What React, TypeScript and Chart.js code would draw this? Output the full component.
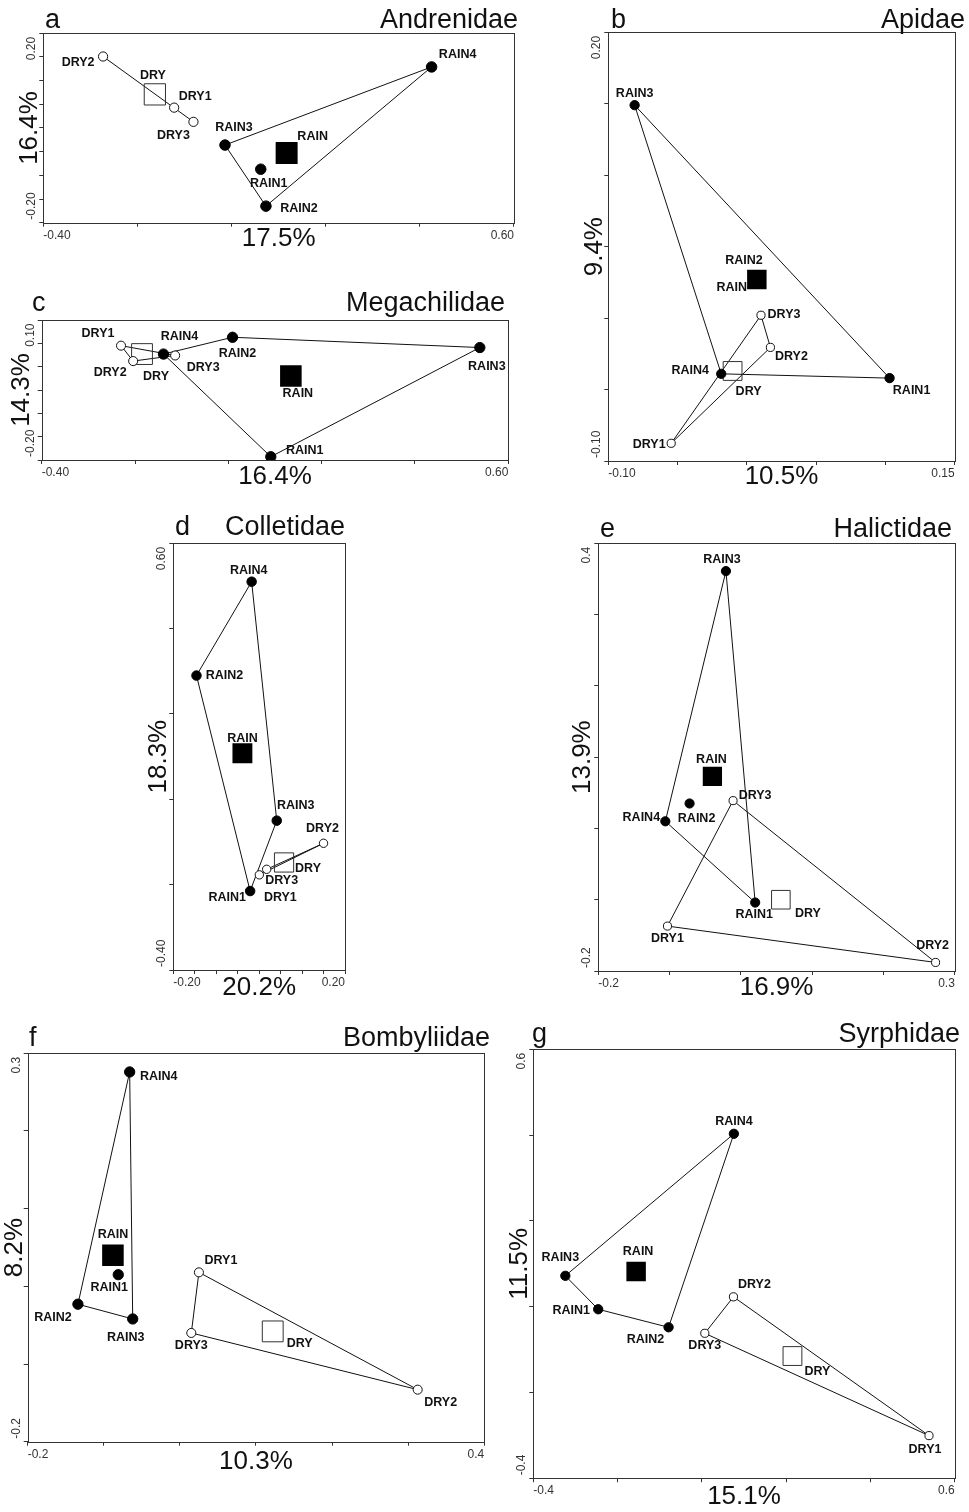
import React, { useEffect, useRef } from "react";
import { Chart, registerables } from "chart.js";

Chart.register(...registerables);

const FONT = "'Liberation Sans', Arial, Helvetica, sans-serif";

// point order shared by every panel
const POINT_NAMES = ["RAIN1", "RAIN2", "RAIN3", "RAIN4", "DRY1", "DRY2", "DRY3", "RAIN", "DRY"];

// ---------- a  Andrenidae
const A_X = [0.062, 0.073, -0.014, 0.425, -0.122, -0.273, -0.081, 0.117, -0.163];
const A_Y = [-0.087, -0.165, -0.036, 0.129, 0.043, 0.151, 0.013, -0.053, 0.071];
const A_RAIN_HULL = ["RAIN3", "RAIN4", "RAIN2"];
const A_DRY_HULL = ["DRY2", "DRY3"];
const A_X_TICKS = [-0.4, 0.6, 0.2];
const A_Y_TICKS = [-0.2, 0.2, 0.05];
const A_X_LABELS = ["-0.40", "0.60"];
const A_Y_LABELS = ["-0.20", "0.20"];
const A_TEXT = ["a", "Andrenidae", "17.5%", "16.4%"];

// ---------- b  Apidae
const B_X = [0.103, 0.0095, -0.081, -0.0185, -0.0546, 0.017, 0.0102, 0.0072, -0.0103];
const B_Y = [-0.042, 0.03, 0.149, -0.039, -0.0876, -0.0205, 0.002, 0.027, -0.037];
const B_RAIN_HULL = ["RAIN3", "RAIN1", "RAIN4"];
const B_DRY_HULL = ["DRY1", "DRY3", "DRY2"];
const B_X_TICKS = [-0.1, 0.15, 0.05];
const B_Y_TICKS = [-0.1, 0.2, 0.05];
const B_X_LABELS = ["-0.10", "0.15"];
const B_Y_LABELS = ["-0.10", "0.20"];
const B_TEXT = ["b", "Apidae", "10.5%", "9.4%"];

// ---------- c  Megachilidae
const C_X = [0.091, 0.009, 0.539, -0.139, -0.23, -0.204, -0.114, 0.134, -0.185];
const C_Y = [-0.193, 0.063, 0.041, 0.027, 0.045, 0.012, 0.024, -0.02, 0.027];
const C_RAIN_HULL = ["RAIN4", "RAIN2", "RAIN3", "RAIN1"];
const C_DRY_HULL = ["DRY1", "DRY2", "DRY3"];
const C_X_TICKS = [-0.4, 0.6, 0.2];
const C_Y_TICKS = [-0.2, 0.1, 0.05];
const C_X_LABELS = ["-0.40", "0.60"];
const C_Y_LABELS = ["-0.20", "0.10"];
const C_TEXT = ["c", "Megachilidae", "16.4%", "14.3%"];

// ---------- d  Colletidae
const D_X = [-0.021, -0.146, 0.041, -0.0175, 0.0004, 0.15, 0.0175, -0.039, 0.058];
const D_Y = [-0.215, 0.29, -0.05, 0.51, -0.177, -0.103, -0.164, 0.108, -0.148];
const D_RAIN_HULL = ["RAIN4", "RAIN2", "RAIN1", "RAIN3"];
const D_DRY_HULL = ["DRY1", "DRY3", "DRY2"];
const D_X_TICKS = [-0.2, 0.2, 0.05];
const D_Y_TICKS = [-0.4, 0.6, 0.2];
const D_X_LABELS = ["-0.20", "0.20"];
const D_Y_LABELS = ["-0.40", "0.60"];
const D_TEXT = ["d", "Colletidae", "20.2%", "18.3%"];

// ---------- e  Halictidae
const E_X = [0.02, -0.072, -0.021, -0.106, -0.103, 0.273, -0.011, -0.04, 0.056];
const E_Y = [-0.104, 0.035, 0.361, 0.01, -0.137, -0.188, 0.039, 0.073, -0.1];
const E_RAIN_HULL = ["RAIN3", "RAIN4", "RAIN1"];
const E_DRY_HULL = ["DRY3", "DRY1", "DRY2"];
const E_X_TICKS = [-0.2, 0.3, 0.1];
const E_Y_TICKS = [-0.2, 0.4, 0.1];
const E_X_LABELS = ["-0.2", "0.3"];
const E_Y_LABELS = ["-0.2", "0.4"];
const E_TEXT = ["e", "Halictidae", "16.9%", "13.9%"];

// ---------- f  Bombyliidae
const F_X = [-0.081, -0.134, -0.062, -0.066, 0.025, 0.3125, 0.015, -0.088, 0.122];
const F_Y = [0.015, -0.023, -0.042, 0.276, 0.018, -0.133, -0.06, 0.04, -0.058];
const F_RAIN_HULL = ["RAIN4", "RAIN2", "RAIN3"];
const F_DRY_HULL = ["DRY1", "DRY3", "DRY2"];
const F_X_TICKS = [-0.2, 0.4, 0.1];
const F_Y_TICKS = [-0.2, 0.3, 0.1];
const F_X_LABELS = ["-0.2", "0.4"];
const F_Y_LABELS = ["-0.2", "0.3"];
const F_TEXT = ["f", "Bombyliidae", "10.3%", "8.2%"];

// ---------- g  Syrphidae
const G_X = [-0.246, -0.079, -0.324, 0.076, 0.539, 0.075, 0.007, -0.156, 0.215];
const G_Y = [-0.006, -0.048, 0.072, 0.403, -0.3005, 0.023, -0.062, 0.082, -0.115];
const G_RAIN_HULL = ["RAIN3", "RAIN4", "RAIN2", "RAIN1"];
const G_DRY_HULL = ["DRY2", "DRY1", "DRY3"];
const G_X_TICKS = [-0.4, 0.6, 0.2];
const G_Y_TICKS = [-0.4, 0.6, 0.2];
const G_X_LABELS = ["-0.4", "0.6"];
const G_Y_LABELS = ["-0.4", "0.6"];
const G_TEXT = ["g", "Syrphidae", "15.1%", "11.5%"];

const PANELS = [
  { key: "a", xs: A_X, ys: A_Y, rainHull: A_RAIN_HULL, dryHull: A_DRY_HULL, xTicks: A_X_TICKS, yTicks: A_Y_TICKS, xLabels: A_X_LABELS, yLabels: A_Y_LABELS, text: A_TEXT },
  { key: "b", xs: B_X, ys: B_Y, rainHull: B_RAIN_HULL, dryHull: B_DRY_HULL, xTicks: B_X_TICKS, yTicks: B_Y_TICKS, xLabels: B_X_LABELS, yLabels: B_Y_LABELS, text: B_TEXT },
  { key: "c", xs: C_X, ys: C_Y, rainHull: C_RAIN_HULL, dryHull: C_DRY_HULL, xTicks: C_X_TICKS, yTicks: C_Y_TICKS, xLabels: C_X_LABELS, yLabels: C_Y_LABELS, text: C_TEXT },
  { key: "d", xs: D_X, ys: D_Y, rainHull: D_RAIN_HULL, dryHull: D_DRY_HULL, xTicks: D_X_TICKS, yTicks: D_Y_TICKS, xLabels: D_X_LABELS, yLabels: D_Y_LABELS, text: D_TEXT },
  { key: "e", xs: E_X, ys: E_Y, rainHull: E_RAIN_HULL, dryHull: E_DRY_HULL, xTicks: E_X_TICKS, yTicks: E_Y_TICKS, xLabels: E_X_LABELS, yLabels: E_Y_LABELS, text: E_TEXT },
  { key: "f", xs: F_X, ys: F_Y, rainHull: F_RAIN_HULL, dryHull: F_DRY_HULL, xTicks: F_X_TICKS, yTicks: F_Y_TICKS, xLabels: F_X_LABELS, yLabels: F_Y_LABELS, text: F_TEXT },
  { key: "g", xs: G_X, ys: G_Y, rainHull: G_RAIN_HULL, dryHull: G_DRY_HULL, xTicks: G_X_TICKS, yTicks: G_Y_TICKS, xLabels: G_X_LABELS, yLabels: G_Y_LABELS, text: G_TEXT },
];

// ---------- layout (page pixels) and label placement — styling only
const LAYOUT: Record<string, any> = {
  a: {
    canvas: [0, 0, 530, 262], box: [43.3, 33.3, 517.3, 222.7], letterX: 45, titleBase: 28, nameRight: 518, xTitleY: 238.5, yTitleX: 30, ms: 1.05,
    offs: { RAIN1: [8, 14], RAIN2: [33, 2], RAIN3: [9, -17], RAIN4: [26, -12], DRY1: [21, -11], DRY2: [-25, 6], DRY3: [-20, 14], RAIN: [26, -17], DRY: [-2, -19] },
  },
  b: {
    canvas: [575, 0, 969, 500], box: [608.3, 32.3, 966, 461], letterX: 611, titleBase: 28, nameRight: 965, xTitleY: 477, yTitleX: 595, ms: 0.93,
    offs: { RAIN1: [22, 12], RAIN2: [-16, -15], RAIN3: [0, -12], RAIN4: [-31, -3], DRY1: [-22, 1], DRY2: [21, 9], DRY3: [23, -1], RAIN: [-25, 8], DRY: [16, 21] },
  },
  c: {
    canvas: [0, 288, 525, 500], box: [41.7, 320, 508.3, 460], letterX: 32, titleBase: 311, nameRight: 505, xTitleY: 477, yTitleX: 22, ms: 1.03,
    offs: { RAIN1: [34, -6], RAIN2: [5, 16], RAIN3: [7, 19], RAIN4: [16, -18], DRY1: [-23, -12], DRY2: [-23, 11], DRY3: [28, 12], RAIN: [7, 18], DRY: [14, 22] },
  },
  d: {
    canvas: [130, 505, 362, 1010], box: [173.3, 543.3, 345, 970], letterX: 175, titleBase: 535, nameRight: 345, xTitleY: 987.5, yTitleX: 159, ms: 0.95,
    offs: { RAIN1: [-23, 6], RAIN2: [28, 0], RAIN3: [19, -15], RAIN4: [-3, -11], DRY1: [21, 23], DRY2: [-1, -15], DRY3: [15, 11], RAIN: [0, -15], DRY: [24, 6] },
  },
  e: {
    canvas: [560, 505, 969, 1010], box: [598.3, 543.3, 955, 971], letterX: 600, titleBase: 537, nameRight: 952, xTitleY: 988, yTitleX: 583, ms: 0.92,
    offs: { RAIN1: [-1, 12], RAIN2: [7, 15], RAIN3: [-4, -12], RAIN4: [-24, -4], DRY1: [0, 12], DRY2: [-3, -17], DRY3: [22, -5], RAIN: [-1, -17], DRY: [27, 14] },
  },
  f: {
    canvas: [0, 1015, 500, 1492], box: [27.7, 1053.3, 491.7, 1441.7], letterX: 29, titleBase: 1046, nameRight: 490, xTitleY: 1462, yTitleX: 15, ms: 1.03,
    offs: { RAIN1: [-9, 13], RAIN2: [-25, 13], RAIN3: [-7, 19], RAIN4: [29, 5], DRY1: [22, -12], DRY2: [23, 13], DRY3: [0, 13], RAIN: [0, -21], DRY: [27, 12] },
  },
  g: {
    canvas: [500, 1015, 969, 1512], box: [533.3, 1049.3, 961.7, 1478.3], letterX: 532, titleBase: 1042, nameRight: 960, xTitleY: 1497, yTitleX: 520, ms: 0.93,
    offs: { RAIN1: [-27, 1], RAIN2: [-23, 12], RAIN3: [-5, -18], RAIN4: [0, -12], DRY1: [-4, 14], DRY2: [21, -12], DRY3: [0, 12], RAIN: [2, -20], DRY: [25, 16] },
  },
};

function Panel({ def }: { def: any }) {
  const ref = useRef<HTMLCanvasElement | null>(null);
  const L = LAYOUT[def.key];
  const [cx, cy, cr, cb] = L.canvas;
  const cw = cr - cx;
  const ch = cb - cy;

  useEffect(() => {
    if (!ref.current) return;
    const [bl, bt, br, bb] = L.box;
    const pts = POINT_NAMES.map((name, i) => ({ x: def.xs[i], y: def.ys[i], name }));
    const find = (n: string) => pts.find((p) => p.name === n)!;
    const hull = (names: string[]) => {
      const arr = names.map(find);
      if (arr.length > 2) arr.push(arr[0]);
      return arr;
    };
    const s = L.ms;

    const datasets: any[] = [
      { label: "RAIN samples", data: pts.filter((p) => /^RAIN\d$/.test(p.name)), pointStyle: "circle", pointRadius: 5 * s, backgroundColor: "#000", borderColor: "#000", borderWidth: 1, order: 0 },
      { label: "DRY samples", data: pts.filter((p) => /^DRY\d$/.test(p.name)), pointStyle: "circle", pointRadius: 4.4 * s, backgroundColor: "#fff", borderColor: "#111", borderWidth: 1, order: 0 },
      { label: "RAIN centroid", data: [find("RAIN")], pointStyle: "rect", pointRadius: 14.8 * s, backgroundColor: "#000", borderColor: "#000", borderWidth: 0, order: 0 },
      { label: "DRY centroid", data: [find("DRY")], pointStyle: "rect", pointRadius: 14.3 * s, backgroundColor: "rgba(0,0,0,0)", borderColor: "#333", borderWidth: 1, order: 0 },
      { label: "RAIN hull", data: hull(def.rainHull), showLine: true, pointRadius: 0, borderColor: "#111", borderWidth: 1, order: 1 },
      { label: "DRY hull", data: hull(def.dryHull), showLine: true, pointRadius: 0, borderColor: "#111", borderWidth: 1, order: 1 },
    ];

    const framePlugin = {
      id: "frame",
      beforeDatasetsDraw(chart: any) {
        const { ctx, chartArea } = chart;
        ctx.save();
        ctx.strokeStyle = "#333";
        ctx.lineWidth = 1;
        const l = Math.round(chartArea.left) + 0.5;
        const t = Math.round(chartArea.top) + 0.5;
        const r = Math.round(chartArea.right) + 0.5;
        const b = Math.round(chartArea.bottom) + 0.5;
        ctx.strokeRect(l, t, r - l, b - t);
        ctx.restore();
      },
    };

    const labelPlugin = {
      id: "pointLabels",
      afterDatasetsDraw(chart: any) {
        const { ctx } = chart;
        ctx.save();
        ctx.font = `bold 12.5px ${FONT}`;
        ctx.fillStyle = "#111";
        ctx.textAlign = "center";
        ctx.textBaseline = "middle";
        for (let i = 0; i < 4; i++) {
          const meta = chart.getDatasetMeta(i);
          meta.data.forEach((el: any, j: number) => {
            const raw = chart.data.datasets[i].data[j];
            const off = L.offs[raw.name] || [0, -12];
            ctx.fillText(raw.name, el.x + off[0], el.y + off[1]);
          });
        }
        ctx.restore();
      },
    };

    const yTickPlugin = {
      id: "yEndLabels",
      afterDraw(chart: any) {
        const { ctx } = chart;
        const ys = chart.scales.y;
        const x = chart.chartArea.left - 11.5;
        const top = ys.getPixelForValue(ys.max);
        const bottom = ys.getPixelForValue(ys.min);
        ctx.save();
        ctx.font = `12px ${FONT}`;
        ctx.fillStyle = "#333";
        ctx.textBaseline = "middle";
        ctx.translate(x, top + 3.5);
        ctx.rotate(-Math.PI / 2);
        ctx.textAlign = "right";
        ctx.fillText(def.yLabels[1], 0, 0);
        ctx.restore();
        ctx.save();
        ctx.font = `12px ${FONT}`;
        ctx.fillStyle = "#333";
        ctx.textBaseline = "middle";
        ctx.translate(x, bottom - 3);
        ctx.rotate(-Math.PI / 2);
        ctx.textAlign = "left";
        ctx.fillText(def.yLabels[0], 0, 0);
        ctx.restore();
      },
    };

    const headerPlugin = {
      id: "header",
      afterDraw(chart: any) {
        const { ctx } = chart;
        ctx.save();
        ctx.font = `27px ${FONT}`;
        ctx.fillStyle = "#111";
        ctx.textBaseline = "alphabetic";
        ctx.textAlign = "left";
        ctx.fillText(def.text[0], L.letterX - cx, L.titleBase - cy);
        ctx.textAlign = "right";
        ctx.fillText(def.text[1], L.nameRight - cx, L.titleBase - cy);
        ctx.restore();
      },
    };

    const titleFont = { family: FONT, size: 26, lineHeight: 1 };

    const chart = new Chart(ref.current, {
      type: "scatter",
      data: { datasets },
      options: {
        animation: false,
        responsive: false,
        devicePixelRatio: 1,
        events: [],
        layout: { padding: { left: 0, top: bt - cy, right: cr - br, bottom: 0 } },
        plugins: { legend: { display: false }, tooltip: { enabled: false } },
        scales: {
          x: {
            type: "linear",
            position: "bottom",
            min: def.xTicks[0],
            max: def.xTicks[1],
            afterFit: (sc: any) => {
              sc.height = cb - bb;
            },
            ticks: {
              stepSize: def.xTicks[2],
              autoSkip: false,
              maxRotation: 0,
              minRotation: 0,
              align: "inner",
              padding: 1.5,
              color: "#333",
              font: { family: FONT, size: 12 },
              callback: (_v: any, i: number, t: any[]) => (i === 0 ? def.xLabels[0] : i === t.length - 1 ? def.xLabels[1] : ""),
            },
            grid: { drawOnChartArea: false, drawTicks: true, tickLength: 4, color: "#333" },
            border: { display: false },
            title: { display: true, text: def.text[2], font: titleFont, color: "#111", padding: { top: 0, bottom: cb - L.xTitleY - 13 } },
          },
          y: {
            type: "linear",
            position: "left",
            min: def.yTicks[0],
            max: def.yTicks[1],
            afterFit: (sc: any) => {
              sc.width = bl - cx;
            },
            ticks: { stepSize: def.yTicks[2], autoSkip: false, display: false },
            grid: { drawOnChartArea: false, drawTicks: true, tickLength: 4, color: "#333" },
            border: { display: false },
            title: { display: true, text: def.text[3], font: titleFont, color: "#111", padding: { top: L.yTitleX - cx - 13, bottom: 0 } },
          },
        },
      } as any,
      plugins: [framePlugin, labelPlugin, yTickPlugin, headerPlugin],
    });
    return () => chart.destroy();
  }, []);

  return (
    <canvas
      ref={ref}
      width={cw}
      height={ch}
      style={{ position: "absolute", left: cx, top: cy, width: cw, height: ch }}
    />
  );
}

export default function App() {
  return (
    <div style={{ position: "absolute", left: 0, top: 0, width: 969, height: 1512, background: "#fff", overflow: "hidden" }}>
      {PANELS.map((p) => (
        <Panel key={p.key} def={p} />
      ))}
    </div>
  );
}
